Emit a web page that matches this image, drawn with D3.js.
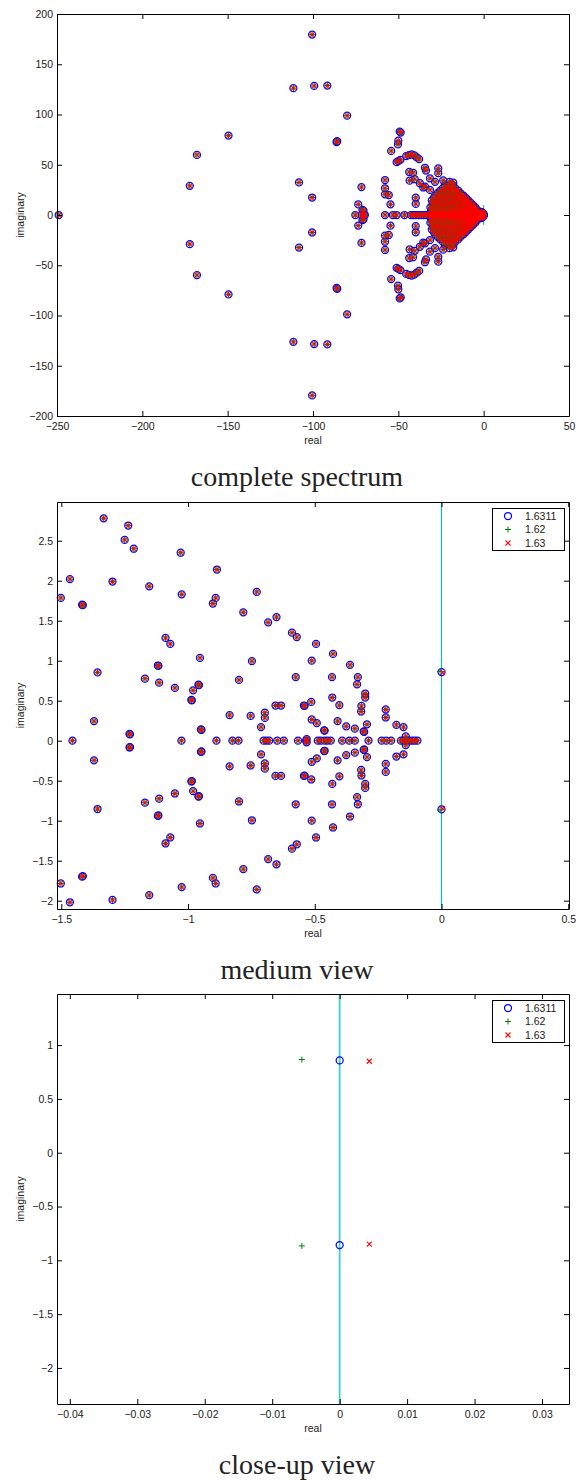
<!DOCTYPE html>
<html>
<head>
<meta charset="utf-8">
<script src="https://cdn.jsdelivr.net/npm/d3@7"></script>
<style>
  body { margin: 0; background: #fff; }
  svg { display: block; }
</style>
</head>
<body>
<svg id="fig" width="578" height="1483"></svg>
<script>
// ---------------------------------------------------------------
// Spectrum data: eigenvalues of the linearised system for three
// values of the parameter. All eigenvalues except the critical pair
// coincide (to plotting accuracy) for the three parameter values.
// ---------------------------------------------------------------
const seriesLabels = ["1.6311", "1.62", "1.63"];

// critical pair closest to the imaginary axis, re ± i·im, per series
const criticalRe = [0.0000, -0.0056, 0.0044];
const criticalIm = [0.858, 0.866, 0.850];

// purely real eigenvalues
const realEigs = [
  -249.0, -75.2, -71.4, -70.2, -69.6, -57.8, -53.2, -51.0, -46.4,
  -42.6, -41.2, -39.8, -38.2, -36.6, -35.0, -33.4, -31.8, -30.0,
  -28.6, -27.0, -25.2, -23.6, -22.0, -20.2, -18.6, -17.0, -15.4,
  -13.8, -12.2, -10.6, -9.2, -7.8, -6.4, -5.2, -4.1, -3.1, -2.3, -1.7,
  -1.456, -1.026, -0.888, -0.825, -0.801, -0.702, -0.691, -0.680,
  -0.648, -0.622, -0.566, -0.534, -0.488, -0.476, -0.461, -0.450,
  -0.437, -0.392, -0.364, -0.342, -0.288, -0.236, -0.218, -0.199,
  -0.160, -0.150, -0.138, -0.127, -0.116, -0.106, -0.095
];

// complex conjugate pairs [re, im] standing for re ± i·im
const pairEigs = [
  // far part of the spectrum
  [-100.5, 179.5], [-111.5, 126.2], [-99.3, 128.4], [-91.6, 128.8],
  [-80.0, 98.8], [-86.2, 72.6], [-85.8, 73.4], [-149.5, 79.0],
  [-168.0, 59.8], [-172.2, 29.0], [-108.2, 32.4], [-100.5, 17.4],
  [-71.6, 27.8], [-73.5, 10.5], [-71.0, 5.0], [-70.4, 4.2],
  [-49.2, 83.0], [-48.6, 82.0], [-50.0, 74.0], [-50.2, 70.2], [-54.2, 63.8],
  [-51.0, 52.6], [-50.0, 53.6], [-48.8, 54.8], [-45.4, 58.6], [-43.8, 59.6],
  [-42.2, 60.2], [-40.6, 59.3], [-39.2, 57.4], [-37.8, 55.6],
  [-43.6, 42.8], [-41.4, 42.0], [-43.4, 34.2], [-40.4, 35.6], [-37.4, 31.6],
  [-35.4, 27.4], [-34.4, 47.0], [-33.8, 44.2], [-31.5, 36.5], [-28.5, 33.0],
  [-26.6, 46.4], [-26.6, 41.6], [-23.7, 34.5], [-20.0, 33.0], [-17.8, 32.2],
  [-39.8, 17.2], [-39.8, 11.0], [-57.8, 34.8], [-57.8, 26.6], [-57.8, 20.6],
  [-55.6, 19.9], [-54.6, 10.6], [-34.4, 28.2], [-31.5, 25.0],
  // near the origin
  [-1.502, 1.785], [-1.466, 2.020], [-1.418, 1.700], [-1.415, 1.694],
  [-1.333, 2.780], [-1.357, 0.854], [-1.371, 0.245], [-1.298, 1.990],
  [-1.250, 2.510], [-1.236, 2.690], [-1.214, 2.400], [-1.231, 0.085],
  [-1.229, 0.080], [-1.153, 1.930], [-1.170, 0.775], [-1.119, 0.940],
  [-1.117, 0.935], [-1.114, 0.725], [-1.089, 1.285], [-1.070, 1.210],
  [-1.052, 0.660], [-1.029, 2.350], [-1.025, 1.830], [-0.987, 0.510],
  [-0.985, 0.505], [-0.980, 0.630], [-0.959, 0.700], [-0.957, 0.694],
  [-0.953, 1.035], [-0.949, 0.140], [-0.947, 0.135], [-0.902, 1.715],
  [-0.891, 1.785], [-0.886, 2.140], [-0.836, 0.320], [-0.799, 0.760],
  [-0.782, 1.605], [-0.753, 0.310], [-0.748, 0.995], [-0.729, 1.860],
  [-0.712, 0.170], [-0.697, 0.285], [-0.697, 0.350], [-0.684, 1.480],
  [-0.655, 0.440], [-0.633, 0.440], [-0.651, 1.545], [-0.590, 1.350],
  [-0.571, 1.295], [-0.575, 0.795], [-0.543, 0.440], [-0.540, 0.436],
  [-0.532, 0.020], [-0.514, 0.485], [-0.512, 1.000], [-0.512, 0.265],
  [-0.495, 1.210], [-0.492, 0.220], [-0.463, 0.130], [-0.461, 0.126],
  [-0.431, 0.540], [-0.432, 0.795], [-0.428, 1.085], [-0.410, 0.245],
  [-0.403, 0.445], [-0.376, 0.180], [-0.361, 0.948], [-0.342, 0.150],
  [-0.330, 0.795], [-0.333, 0.705], [-0.316, 0.435], [-0.317, 0.365],
  [-0.307, 0.115], [-0.305, 0.110], [-0.301, 0.590], [-0.301, 0.540],
  [-0.294, 0.205], [-0.220, 0.390], [-0.220, 0.290], [-0.178, 0.198],
  [-0.150, 0.170], [-0.141, 0.055]
];

// dense part of the spectrum: rows [im, [re, ...]], each a conjugate pair
const clusterRows = [
  [1.4,  [-30.4, -28.1, -25.9, -23.8, -21.5, -19.4, -17.2, -15.1, -13.0, -11.1, -9.2, -7.4, -5.7, -4.2, -2.9, -1.9]],
  [3.3,  [-31.0, -28.8, -26.5, -24.4, -22.2, -20.0, -17.9, -15.8, -13.7, -11.8, -9.9, -8.1, -6.4, -4.9, -3.5, -2.4]],
  [5.4,  [-30.2, -27.7, -25.4, -23.1, -20.9, -18.7, -16.5, -14.4, -12.4, -10.5, -8.7, -7.0, -5.5, -4.0]],
  [7.6,  [-31.2, -29.0, -26.6, -24.2, -22.0, -19.7, -17.5, -15.3, -13.2, -11.3, -9.5, -7.8, -6.1, -4.9]],
  [9.8,  [-30.0, -27.6, -25.3, -23.0, -20.8, -18.6, -16.4, -14.3, -12.3, -10.4, -8.6, -7.0, -6.2]],
  [12.1, [-29.6, -27.2, -24.9, -22.6, -20.3, -18.1, -15.9, -13.8, -11.8, -9.9, -8.3, -7.6]],
  [14.5, [-30.4, -28.0, -25.6, -23.3, -21.0, -18.8, -16.6, -14.4, -12.4, -10.5, -9.0]],
  [16.9, [-29.2, -26.8, -24.4, -22.1, -19.8, -17.6, -15.4, -13.3, -11.5, -10.4]],
  [19.3, [-28.4, -26.0, -23.6, -21.3, -19.0, -16.8, -14.6, -12.8, -11.8]],
  [21.8, [-27.0, -24.6, -22.2, -19.9, -17.6, -15.5, -13.6]],
  [24.3, [-25.5, -23.1, -20.8, -18.5, -16.3, -14.9]],
  [26.9, [-23.8, -21.3, -19.0, -16.8]],
  [29.4, [-22.6, -20.3, -18.1]]
];

// reference line on the imaginary axis
const zeroLine = [[0, -10], [0, 10]];

// axes set-up for the three views
const panelTitles = ["complete spectrum", "medium view", "close-up view"];
const xLimits = [[-250, 50], [-1.517, 0.503], [-0.0419, 0.0340]];
const yLimits = [[-200, 200], [-2.104, 2.984], [-2.335, 1.475]];
const xTicks = [
  [-250, -200, -150, -100, -50, 0, 50],
  [-1.5, -1, -0.5, 0, 0.5],
  [-0.04, -0.03, -0.02, -0.01, 0, 0.01, 0.02, 0.03]
];
const yTicks = [
  [-200, -150, -100, -50, 0, 50, 100, 150, 200],
  [-2, -1.5, -1, -0.5, 0, 0.5, 1, 1.5, 2, 2.5],
  [-2, -1.5, -1, -0.5, 0, 0.5, 1]
];
const showLegend = [false, true, true];

// ---------------------------------------------------------------
// assemble eigenvalue lists for each series
// ---------------------------------------------------------------
const sharedEigs = [];
realEigs.forEach(re => sharedEigs.push([re, 0]));
pairEigs.forEach(([re, im]) => sharedEigs.push([re, im], [re, -im]));
clusterRows.forEach(([im, res]) => res.forEach(re => sharedEigs.push([re, im], [re, -im])));
const seriesEigs = seriesLabels.map((_, k) =>
  sharedEigs.concat([[criticalRe[k], criticalIm[k]], [criticalRe[k], -criticalIm[k]]]));

// ---------------------------------------------------------------
// drawing
// ---------------------------------------------------------------
const svg = d3.select("#fig");
const layout = [
  { top: 14, bottom: 416 },
  { top: 502, bottom: 909 },
  { top: 994, bottom: 1404 }
];
const plotLeft = 57, plotRight = 569;
const sansFont = "'Liberation Sans', Arial, Helvetica, sans-serif";
const serifFont = "'Liberation Serif', 'Times New Roman', serif";
const colors = ["#0000ff", "#008000", "#ff0000"];
const lineColor = "#00bfbf";

const fmt = v => (v < 0 ? "\u2212" : "") + String(Math.abs(v));

function drawMarker(sel, k) {
  if (k === 0) {
    sel.append("circle").attr("r", 3.5)
      .attr("fill", "none").attr("stroke", colors[0]).attr("stroke-width", 1.25);
  } else if (k === 1) {
    sel.append("path").attr("d", "M-3,0H3M0,-3V3")
      .attr("fill", "none").attr("stroke", colors[1]).attr("stroke-width", 1);
  } else {
    sel.append("path").attr("d", "M-2.5,-2.5L2.5,2.5M-2.5,2.5L2.5,-2.5")
      .attr("fill", "none").attr("stroke", colors[2]).attr("stroke-width", 1.1);
  }
}

panelTitles.forEach((title, i) => {
  const { top, bottom } = layout[i];
  const g = svg.append("g");
  const x = d3.scaleLinear().domain(xLimits[i]).range([plotLeft, plotRight]);
  const y = d3.scaleLinear().domain(yLimits[i]).range([bottom, top]);

  const clipId = "clip" + i;
  svg.append("clipPath").attr("id", clipId)
    .append("rect").attr("x", plotLeft).attr("y", top)
    .attr("width", plotRight - plotLeft).attr("height", bottom - top);

  // imaginary-axis reference line
  g.append("path")
    .datum(zeroLine)
    .attr("clip-path", `url(#${clipId})`)
    .attr("d", d3.line().x(d => x(d[0])).y(d => y(d[1])))
    .attr("fill", "none")
    .attr("stroke", lineColor)
    .attr("stroke-width", i === 2 ? 1.8 : 1.1)
    .attr("stroke-opacity", i === 2 ? 0.75 : 1);

  // eigenvalue markers, one layer per series
  const [x0, x1] = xLimits[i], [y0, y1] = yLimits[i];
  seriesEigs.forEach((eigs, k) => {
    const inside = eigs.filter(d => d[0] >= x0 && d[0] <= x1 && d[1] >= y0 && d[1] <= y1);
    const marks = g.append("g").selectAll("g")
      .data(inside).join("g")
      .attr("transform", d => `translate(${x(d[0])},${y(d[1])})`);
    drawMarker(marks, k);
  });

  // axes (ticks inside, mirrored on top and right)
  const axisFont = sel => sel.attr("font-family", sansFont).attr("font-size", 10.5);
  const styleAxis = sel => {
    sel.selectAll(".domain").attr("stroke", "#000").attr("stroke-width", 1);
    sel.selectAll(".tick line").attr("stroke", "#000");
    sel.selectAll(".tick text").attr("fill", "#1a1a1a");
  };
  g.append("g").attr("transform", `translate(0,${bottom})`)
    .call(d3.axisBottom(x).tickValues(xTicks[i]).tickFormat(fmt)
      .tickSizeInner(-5).tickSizeOuter(0).tickPadding(7))
    .call(axisFont).call(styleAxis);
  g.append("g").attr("transform", `translate(0,${top})`)
    .call(d3.axisTop(x).tickValues(xTicks[i]).tickFormat("")
      .tickSizeInner(-5).tickSizeOuter(0))
    .call(styleAxis);
  g.append("g").attr("transform", `translate(${plotLeft},0)`)
    .call(d3.axisLeft(y).tickValues(yTicks[i]).tickFormat(fmt)
      .tickSizeInner(-5).tickSizeOuter(0).tickPadding(4))
    .call(axisFont).call(styleAxis);
  g.append("g").attr("transform", `translate(${plotRight},0)`)
    .call(d3.axisRight(y).tickValues(yTicks[i]).tickFormat("")
      .tickSizeInner(-5).tickSizeOuter(0))
    .call(styleAxis);

  // axis labels
  g.append("text")
    .attr("x", (plotLeft + plotRight) / 2).attr("y", bottom + 28)
    .attr("text-anchor", "middle")
    .attr("font-family", sansFont).attr("font-size", 10.5).attr("fill", "#1a1a1a")
    .text("real");
  g.append("text")
    .attr("transform", `translate(24,${(top + bottom) / 2}) rotate(-90)`)
    .attr("text-anchor", "middle")
    .attr("font-family", sansFont).attr("font-size", 10.5).attr("fill", "#1a1a1a")
    .text("imaginary");

  // legend
  if (showLegend[i]) {
    const lg = g.append("g").attr("transform", `translate(492,${top + 6})`);
    lg.append("rect").attr("x", 0.5).attr("y", 0.5).attr("width", 72).attr("height", 42)
      .attr("fill", "#fff").attr("stroke", "#000").attr("stroke-width", 1);
    seriesLabels.forEach((lab, k) => {
      const row = lg.append("g").attr("transform", `translate(0,${8 + k * 13.5})`);
      drawMarker(row.append("g").attr("transform", "translate(16,0)"), k);
      row.append("text").attr("x", 33).attr("y", 0).attr("dy", "0.36em")
        .attr("font-family", sansFont).attr("font-size", 10.5).attr("fill", "#1a1a1a")
        .text(lab);
    });
  }

  // caption below each view
  svg.append("text")
    .attr("x", 297).attr("y", bottom + 70)
    .attr("text-anchor", "middle")
    .attr("font-family", serifFont).attr("font-size", 28).attr("fill", "#222")
    .text(title);
});
</script>
</body>
</html>
